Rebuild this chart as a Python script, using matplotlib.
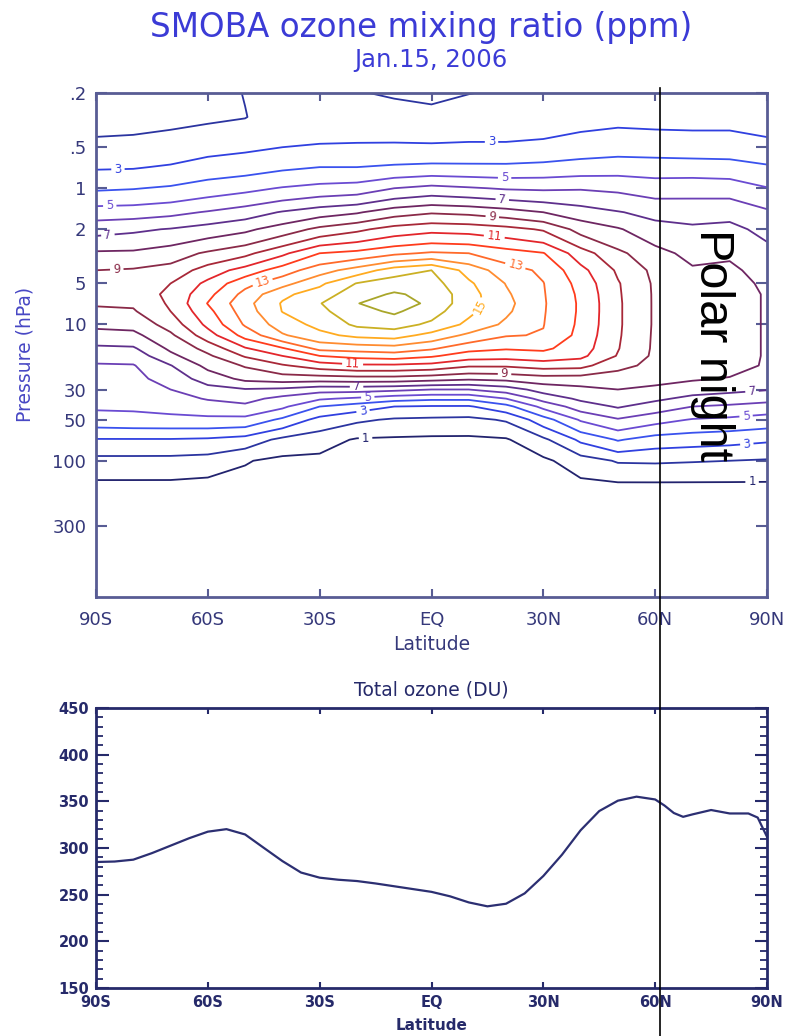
import numpy as np
import matplotlib
matplotlib.use("Agg")
import matplotlib.pyplot as plt
from matplotlib.lines import Line2D
from matplotlib.ticker import MultipleLocator, NullLocator

# ---------------- data ----------------
latitudes = [-90, -80, -70, -60, -50, -40, -30, -20, -10, 0,
             10, 20, 30, 40, 50, 60, 70, 80, 90]
pressure_hpa = [0.2, 0.3, 0.5, 0.7, 1, 1.5, 2, 3, 4, 5, 6, 7, 8, 10, 12, 15,
                17, 20, 25, 30, 35, 40, 50, 70, 100, 150, 300, 1000]

# ozone mixing ratio (ppm); one row per latitude, values along pressure_hpa
mixing_ratio_ppm = [
    [1.45, 1.7, 2.2, 2.9, 3.86, 5.47, 6.64, 8.15, 9.0, 9.25, 9.3, 9.1, 8.82, 8.23, 7.63, 6.8, 6.33, 5.91, 5.67, 5.46, 5.3, 5.15, 4.58, 2.93, 1.68, 0.8, 0.4, 0.1],
    [1.5, 1.72, 2.25, 2.93, 3.95, 5.53, 6.83, 8.18, 9.1, 9.4, 9.5, 9.15, 8.9, 8.32, 7.73, 6.87, 6.44, 5.94, 5.7, 5.5, 5.32, 5.17, 4.67, 2.93, 1.68, 0.8, 0.4, 0.1],
    [1.55, 1.75, 2.44, 3.1, 4.13, 5.73, 7.06, 8.53, 9.35, 10.0, 10.2, 10.15, 10.0, 9.41, 8.81, 8.19, 7.75, 6.96, 6.44, 6.0, 5.67, 5.37, 4.7, 2.93, 1.67, 0.8, 0.4, 0.1],
    [1.7, 1.85, 2.67, 3.42, 4.47, 6.08, 7.43, 9.15, 10.46, 11.25, 11.71, 12.04, 11.72, 11.25, 10.56, 9.33, 8.83, 8.28, 7.43, 6.67, 6.07, 5.61, 4.75, 2.85, 1.57, 0.7, 0.35, 0.1],
    [2.03, 1.97, 2.82, 3.58, 4.73, 6.5, 7.79, 9.73, 11.4, 12.7, 13.31, 13.66, 13.5, 13.12, 12.36, 10.89, 10.11, 9.1, 8.25, 6.93, 6.33, 5.79, 4.71, 2.58, 1.07, 0.65, 0.35, 0.1],
    [2.1, 2.45, 3.0, 3.83, 5.07, 7.08, 8.46, 10.78, 12.5, 13.64, 14.78, 15.09, 15.03, 14.5, 13.88, 11.88, 11.0, 9.89, 8.5, 6.8, 5.69, 5.19, 3.8, 1.75, 0.75, 0.55, 0.3, 0.1],
    [2.15, 2.45, 3.09, 4.0, 5.31, 7.55, 9.25, 12.0, 13.58, 14.8, 15.47, 15.95, 15.75, 15.29, 14.73, 13.29, 12.0, 10.5, 8.5, 6.4, 5.13, 4.0, 2.67, 1.41, 0.75, 0.55, 0.3, 0.1],
    [2.05, 2.4, 3.13, 4.0, 5.44, 7.89, 9.78, 12.3, 14.43, 16.05, 16.6, 16.96, 16.67, 16.19, 15.25, 13.43, 12.33, 10.83, 8.6, 6.4, 4.83, 3.5, 2.17, 0.9, 0.7, 0.5, 0.3, 0.1],
    [1.9, 2.4, 3.14, 4.14, 6.0, 8.56, 10.4, 12.8, 15.5, 16.55, 17.11, 17.6, 17.16, 16.41, 15.43, 13.57, 12.5, 10.83, 8.6, 6.25, 4.4, 3.0, 1.88, 0.85, 0.65, 0.5, 0.3, 0.1],
    [1.8, 2.27, 3.14, 4.23, 6.3, 8.89, 10.7, 13.13, 16.0, 16.4, 16.74, 16.74, 16.43, 15.8, 14.67, 13.13, 12.14, 10.67, 8.4, 6.0, 4.2, 2.91, 1.81, 0.8, 0.6, 0.45, 0.25, 0.1],
    [1.98, 2.45, 3.15, 4.21, 6.1, 8.75, 10.6, 13.0, 14.64, 15.17, 15.4, 15.41, 15.23, 14.75, 13.78, 12.33, 11.5, 10.14, 8.17, 6.0, 4.2, 2.9, 1.75, 0.8, 0.6, 0.45, 0.25, 0.1],
    [2.1, 2.45, 3.15, 4.2, 5.9, 8.44, 10.33, 12.46, 13.42, 13.96, 14.15, 14.29, 14.18, 13.8, 13.07, 12.08, 11.4, 10.14, 8.29, 6.5, 5.0, 3.67, 2.1, 0.9, 0.65, 0.5, 0.25, 0.1],
    [2.2, 2.5, 3.24, 4.29, 5.85, 8.0, 9.89, 12.05, 12.82, 13.03, 13.07, 13.1, 13.08, 13.03, 12.94, 12.18, 11.6, 10.43, 8.56, 7.4, 6.38, 5.29, 3.56, 1.79, 0.8, 0.55, 0.25, 0.1],
    [2.3, 2.65, 3.46, 4.44, 5.92, 7.47, 8.64, 10.47, 11.3, 11.65, 11.8, 11.85, 11.85, 11.8, 11.7, 11.5, 11.25, 10.33, 8.54, 7.75, 7.19, 6.5, 5.11, 3.2, 1.53, 0.75, 0.3, 0.1],
    [2.4, 2.75, 3.59, 4.53, 5.81, 7.06, 8.1, 9.22, 9.85, 10.08, 10.12, 10.15, 10.15, 10.15, 10.12, 10.05, 9.93, 9.27, 8.55, 8.0, 7.53, 7.1, 5.9, 4.09, 2.09, 0.85, 0.35, 0.1],
    [2.4, 2.7, 3.55, 4.48, 5.56, 6.7, 7.37, 8.35, 8.75, 8.85, 8.87, 8.87, 8.87, 8.87, 8.85, 8.83, 8.8, 8.75, 8.3, 7.8, 7.2, 6.55, 5.36, 3.55, 2.12, 0.85, 0.35, 0.1],
    [2.4, 2.7, 3.48, 4.47, 5.61, 6.63, 7.16, 7.69, 8.13, 8.4, 8.48, 8.5, 8.5, 8.5, 8.5, 8.5, 8.48, 8.45, 8.12, 7.43, 6.73, 6.0, 4.93, 3.42, 2.06, 0.85, 0.35, 0.1],
    [2.4, 2.7, 3.48, 4.4, 5.56, 6.71, 7.25, 7.85, 8.2, 8.4, 8.5, 8.5, 8.5, 8.5, 8.5, 8.5, 8.5, 8.35, 7.94, 7.25, 6.55, 5.83, 4.79, 3.31, 2.0, 0.85, 0.35, 0.1],
    [2.3, 2.6, 3.26, 4.13, 5.05, 6.17, 6.73, 7.3, 7.6, 7.8, 7.9, 7.9, 7.9, 7.9, 7.9, 7.9, 7.9, 7.9, 7.55, 7.05, 6.36, 5.58, 4.57, 3.14, 1.9, 0.85, 0.35, 0.1],
]

labelled_levels = [1, 3, 5, 7, 9, 11, 13, 15, 17]
unlabelled_levels = [2, 4, 6, 8, 10, 12, 14, 16]

lat_ticks = [-90, -60, -30, 0, 30, 60, 90]
lat_tick_labels = ["90S", "60S", "30S", "EQ", "30N", "60N", "90N"]
p_ticks = [0.2, 0.5, 1, 2, 5, 10, 30, 50, 100, 300]
p_tick_labels = [".2", ".5", "1", "2", "5", "10", "30", "50", "100", "300"]

total_ozone_lat = [-90, -85, -80, -75, -70, -65, -60, -55, -50, -45, -40, -35,
                   -30, -25, -20, -15, -10, -5, 0, 5, 10, 15, 20, 25, 30, 35,
                   40, 45, 50, 55, 60, 62.5, 65, 67.5, 70, 75, 80, 85, 87.5, 90]
total_ozone_du = [285, 285.5, 287.5, 294.5, 302.5, 310.5, 317.5, 320.2, 314.5,
                  300.2, 286, 273.7, 268.2, 266, 264.6, 262, 259, 256, 253,
                  248.2, 241.7, 237.5, 240.3, 251.4, 270, 292.8, 319, 339.6,
                  350.7, 355, 352, 345.5, 337.5, 333.4, 336, 340.7, 337, 337,
                  332.6, 312]

# ---------------- style ----------------
level_colors = {1: "#22236e", 2: "#2b34a0", 3: "#3040e0", 4: "#3a52ee",
                5: "#6a4bd2", 6: "#6b3fb5", 7: "#5e2f8c", 8: "#6e2662",
                9: "#8a2a48", 10: "#a82838", 11: "#e3262b", 12: "#ff3c1c",
                13: "#ff6a2a", 14: "#ff8c30", 15: "#ffab20", 16: "#cbb024",
                17: "#a9a62a"}
label_positions = [(-84.1, 0.75), (16.1, 0.475), (-86.3, 1.38), (19.6, 0.86),
                   (-86.8, 2.22), (19.0, 1.2), (-84.4, 4.08), (16.3, 1.63),
                   (16.9, 2.18), (-45.3, 4.91), (22.8, 3.44), (12.1, 7.13),
                   (-21.2, 20.4), (19.6, 22.5), (-20.1, 28.1), (-17.1, 33.8),
                   (-18.5, 40.8), (-17.7, 66.6), (86, 142.6), (84.6, 76.3),
                   (84.4, 47.5), (86, 31.6)]

W, H = 791, 1036
fig = plt.figure(figsize=(W / 100, H / 100), dpi=100)


def fx(px):
    return px / W


def fy(py):
    return 1 - py / H


top_spine = "#585c94"
top_text = "#35387a"
bot_col = "#262a6a"
title_col = "#3b3bd6"

# ---- top panel: contours ----
ax1 = fig.add_axes([fx(96), fy(597), (767 - 96) / W, (597 - 93) / H])
Z = np.array(mixing_ratio_ppm).T
ax1.set_yscale("log")
ax1.set_xlim(-90, 90)
ax1.set_ylim(1000, 0.2)
cs_even = ax1.contour(latitudes, pressure_hpa, Z, levels=unlabelled_levels,
                      colors=[level_colors[v] for v in unlabelled_levels],
                      linewidths=1.3)
cs_odd = ax1.contour(latitudes, pressure_hpa, Z, levels=labelled_levels,
                     colors=[level_colors[v] for v in labelled_levels],
                     linewidths=1.3)
ax1.set_xlim(-90, 90)
ax1.set_ylim(1000, 0.2)
ax1.set_xticks(lat_ticks)
ax1.set_xticklabels(lat_tick_labels)
ax1.set_yticks(p_ticks)
ax1.set_yticklabels(p_tick_labels)
ax1.yaxis.set_minor_locator(NullLocator())
ax1.xaxis.set_minor_locator(NullLocator())
ax1.tick_params(axis="x", which="major", direction="in", top=True, bottom=True,
                length=6, width=1.5, color=top_spine, pad=10,
                labelsize=13, labelcolor=top_text)
ax1.tick_params(axis="y", which="major", direction="in", left=True, right=True,
                length=8, width=1.5, color=top_spine, pad=7,
                labelsize=13, labelcolor=top_text)
for s in ax1.spines.values():
    s.set_color(top_spine)
    s.set_linewidth(2)
ax1.clabel(cs_odd, manual=label_positions, fontsize=8.5,
           inline=True, inline_spacing=3, fmt="%d")

# ---- bottom panel: total ozone ----
ax2 = fig.add_axes([fx(96), fy(988), (767 - 96) / W, (988 - 708) / H])
ax2.plot(total_ozone_lat, total_ozone_du, color="#2c2f72", lw=1.6)
ax2.set_xlim(-90, 90)
ax2.set_ylim(150, 450)
ax2.set_xticks(lat_ticks)
ax2.set_xticklabels(lat_tick_labels)
ax2.set_yticks(range(150, 451, 50))
ax2.yaxis.set_minor_locator(MultipleLocator(10))
ax2.xaxis.set_minor_locator(NullLocator())
ax2.tick_params(axis="x", which="major", direction="in", top=True, bottom=True,
                length=4, width=1.5, color=bot_col, pad=5)
ax2.tick_params(axis="y", which="major", direction="in", left=True, right=True,
                length=9, width=1.5, color=bot_col, pad=5)
ax2.tick_params(axis="y", which="minor", direction="in", left=True, right=True,
                length=5, width=1.3, color=bot_col)
for lab in ax2.get_xticklabels() + ax2.get_yticklabels():
    lab.set_fontsize(10.5)
    lab.set_fontweight("bold")
    lab.set_color(bot_col)
for s in ax2.spines.values():
    s.set_color(bot_col)
    s.set_linewidth(2)

# ---- texts ----
fig.text(fx(421), fy(28), "SMOBA ozone mixing ratio (ppm)", ha="center",
         va="center", fontsize=23.5, color=title_col)
fig.text(fx(431), fy(60), "Jan.15, 2006", ha="center", va="center",
         fontsize=17.5, color=title_col)
fig.text(fx(25), fy(354), "Pressure (hPa)", ha="center", va="center",
         rotation=90, fontsize=13.5, color="#4747c4")
fig.text(fx(432), fy(645), "Latitude", ha="center", va="center",
         fontsize=13.5, color=top_text)
fig.text(fx(431), fy(690), "Total ozone (DU)", ha="center", va="center",
         fontsize=13.5, color=bot_col)
fig.text(fx(432), fy(1025), "Latitude", ha="center", va="center",
         fontsize=11, fontweight="bold", color=bot_col)

# ---- polar night annotation ----
fig.add_artist(Line2D([fx(660), fx(660)], [0, fy(88)],
                      transform=fig.transFigure, color="black", lw=1.2))
fig.text(fx(713), fy(345), "Polar night", rotation=-90, ha="center",
         va="center", fontsize=35, family="Liberation Sans", color="black")

fig.savefig("out.png", dpi=100)
